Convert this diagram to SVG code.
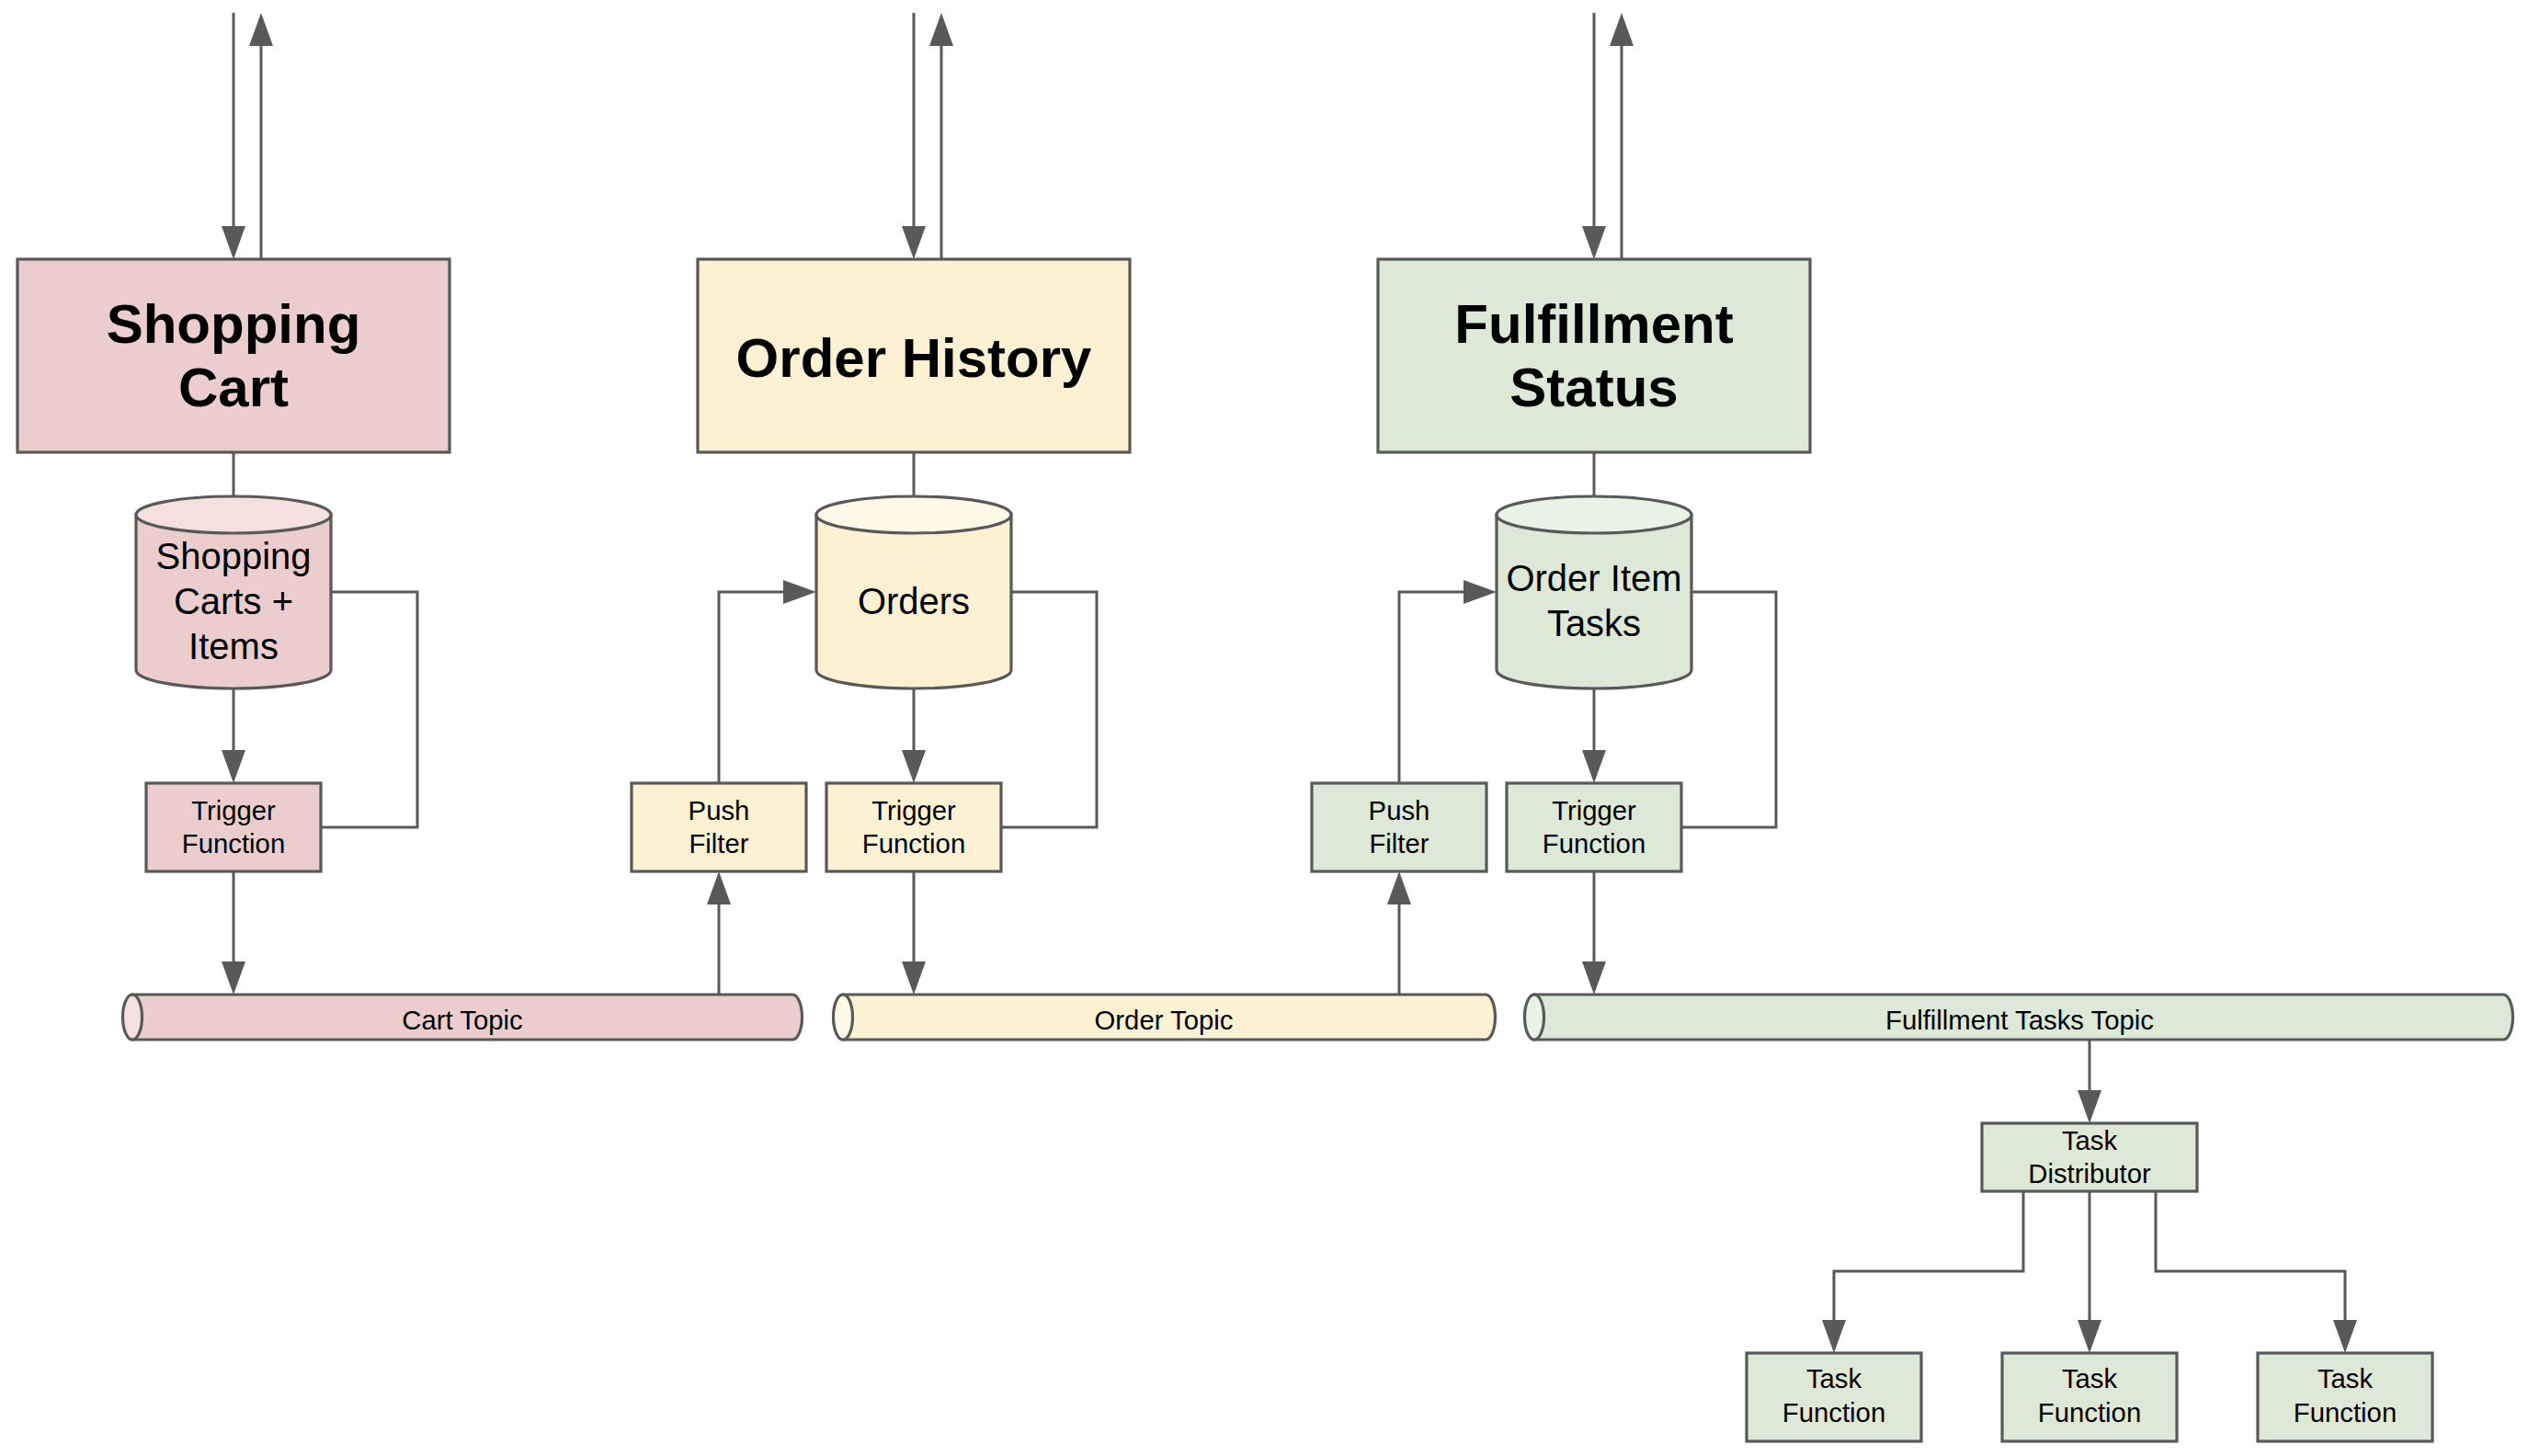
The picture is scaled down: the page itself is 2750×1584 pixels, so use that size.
<svg xmlns="http://www.w3.org/2000/svg" width="2750" height="1584" viewBox="0 0 2750 1584">
<defs>
<style>
.st{stroke:#595959;stroke-width:3.2;stroke-linejoin:miter}
.ln{fill:none;stroke:#595959;stroke-width:3}
.r{fill:#ECCDCD}.rl{fill:#F5E0E0}
.y{fill:#FCF1D2}.yl{fill:#FEF8E7}
.g{fill:#DDE8D6}.gl{fill:#EAF2E6}
text{font-family:"Liberation Sans",Arial,sans-serif;fill:#000;text-anchor:middle}
.t{font-size:60px;font-weight:bold}
.d{font-size:40px}
.s{font-size:29.3px}
</style>
<marker id="ah" markerUnits="userSpaceOnUse" markerWidth="36" markerHeight="26" refX="30" refY="13" orient="auto" viewBox="0 0 36 26">
<path d="M0,0 L36,13 L0,26 Z" fill="#595959"/>
</marker>
</defs>
<rect width="2750" height="1584" fill="#fff"/>

<g id="connectors" class="ln">
<path d="M254,14 V276" marker-end="url(#ah)"/>
<path d="M284,282 V20" marker-end="url(#ah)"/>
<path d="M994,14 V276" marker-end="url(#ah)"/>
<path d="M1024,282 V20" marker-end="url(#ah)"/>
<path d="M1734,14 V276" marker-end="url(#ah)"/>
<path d="M1764,282 V20" marker-end="url(#ah)"/>
<path d="M254,492 V540"/>
<path d="M994,492 V540"/>
<path d="M1734,492 V540"/>
<path d="M254,749 V846" marker-end="url(#ah)"/>
<path d="M994,749 V846" marker-end="url(#ah)"/>
<path d="M1734,749 V846" marker-end="url(#ah)"/>
<path d="M349,900 H454 V644 H360"/>
<path d="M1089,900 H1193 V644 H1100"/>
<path d="M1829,900 H1932 V644 H1840"/>
<path d="M254,948 V1076" marker-end="url(#ah)"/>
<path d="M994,948 V1076" marker-end="url(#ah)"/>
<path d="M1734,948 V1076" marker-end="url(#ah)"/>
<path d="M782,852 V644 H882" marker-end="url(#ah)"/>
<path d="M1522,852 V644 H1622" marker-end="url(#ah)"/>
<path d="M782,1082 V954" marker-end="url(#ah)"/>
<path d="M1522,1082 V954" marker-end="url(#ah)"/>
<path d="M2273,1131 V1216" marker-end="url(#ah)"/>
<path d="M2201,1296 V1383 H1995 V1466" marker-end="url(#ah)"/>
<path d="M2273,1296 V1466" marker-end="url(#ah)"/>
<path d="M2345,1296 V1383 H2551 V1466" marker-end="url(#ah)"/>
</g>

<g id="shopping-cart">
<rect class="st r" x="19" y="282" width="470" height="210"/>
<text class="t" x="254" y="373">Shopping</text>
<text class="t" x="254" y="442">Cart</text>
</g>
<g id="order-history">
<rect class="st y" x="759" y="282" width="470" height="210"/>
<text class="t" x="994" y="410">Order History</text>
</g>
<g id="fulfillment-status">
<rect class="st g" x="1499" y="282" width="470" height="210"/>
<text class="t" x="1734" y="373">Fulfillment</text>
<text class="t" x="1734" y="442">Status</text>
</g>

<g id="db-carts">
<path class="st r" d="M148,560 V729 A106,20 0 0 0 360,729 V560 Z"/>
<ellipse class="st rl" cx="254" cy="560" rx="106" ry="20"/>
<text class="d" x="254" y="619">Shopping</text>
<text class="d" x="254" y="668">Carts +</text>
<text class="d" x="254" y="717">Items</text>
</g>
<g id="db-orders">
<path class="st y" d="M888,560 V729 A106,20 0 0 0 1100,729 V560 Z"/>
<ellipse class="st yl" cx="994" cy="560" rx="106" ry="20"/>
<text class="d" x="994" y="668">Orders</text>
</g>
<g id="db-tasks">
<path class="st g" d="M1628,560 V729 A106,20 0 0 0 1840,729 V560 Z"/>
<ellipse class="st gl" cx="1734" cy="560" rx="106" ry="20"/>
<text class="d" x="1734" y="643">Order Item</text>
<text class="d" x="1734" y="692">Tasks</text>
</g>

<g id="trigger-cart">
<rect class="st r" x="159" y="852" width="190" height="96"/>
<text class="s" x="254" y="892">Trigger</text>
<text class="s" x="254" y="928">Function</text>
</g>
<g id="push-filter-order">
<rect class="st y" x="687" y="852" width="190" height="96"/>
<text class="s" x="782" y="892">Push</text>
<text class="s" x="782" y="928">Filter</text>
</g>
<g id="trigger-order">
<rect class="st y" x="899" y="852" width="190" height="96"/>
<text class="s" x="994" y="892">Trigger</text>
<text class="s" x="994" y="928">Function</text>
</g>
<g id="push-filter-fulfillment">
<rect class="st g" x="1427" y="852" width="190" height="96"/>
<text class="s" x="1522" y="892">Push</text>
<text class="s" x="1522" y="928">Filter</text>
</g>
<g id="trigger-fulfillment">
<rect class="st g" x="1639" y="852" width="190" height="96"/>
<text class="s" x="1734" y="892">Trigger</text>
<text class="s" x="1734" y="928">Function</text>
</g>

<g id="cart-topic">
<path class="st r" d="M144,1082 H862 A10.5,24.5 0 0 1 862,1131 H144 Z"/>
<ellipse class="st rl" cx="144" cy="1106.5" rx="10.5" ry="24.5"/>
<text class="s" x="503" y="1120">Cart Topic</text>
</g>
<g id="order-topic">
<path class="st y" d="M917,1082 H1616 A10.5,24.5 0 0 1 1616,1131 H917 Z"/>
<ellipse class="st yl" cx="917" cy="1106.5" rx="10.5" ry="24.5"/>
<text class="s" x="1266" y="1120">Order Topic</text>
</g>
<g id="fulfillment-topic">
<path class="st g" d="M1669,1082 H2723 A10.5,24.5 0 0 1 2723,1131 H1669 Z"/>
<ellipse class="st gl" cx="1669" cy="1106.5" rx="10.5" ry="24.5"/>
<text class="s" x="2197" y="1120">Fulfillment Tasks Topic</text>
</g>

<g id="task-distributor">
<rect class="st g" x="2156" y="1222" width="234" height="74"/>
<text class="s" x="2273" y="1251">Task</text>
<text class="s" x="2273" y="1287">Distributor</text>
</g>
<g id="task-function-1">
<rect class="st g" x="1900" y="1472" width="190" height="96"/>
<text class="s" x="1995" y="1510">Task</text>
<text class="s" x="1995" y="1547">Function</text>
</g>
<g id="task-function-2">
<rect class="st g" x="2178" y="1472" width="190" height="96"/>
<text class="s" x="2273" y="1510">Task</text>
<text class="s" x="2273" y="1547">Function</text>
</g>
<g id="task-function-3">
<rect class="st g" x="2456" y="1472" width="190" height="96"/>
<text class="s" x="2551" y="1510">Task</text>
<text class="s" x="2551" y="1547">Function</text>
</g>
</svg>
